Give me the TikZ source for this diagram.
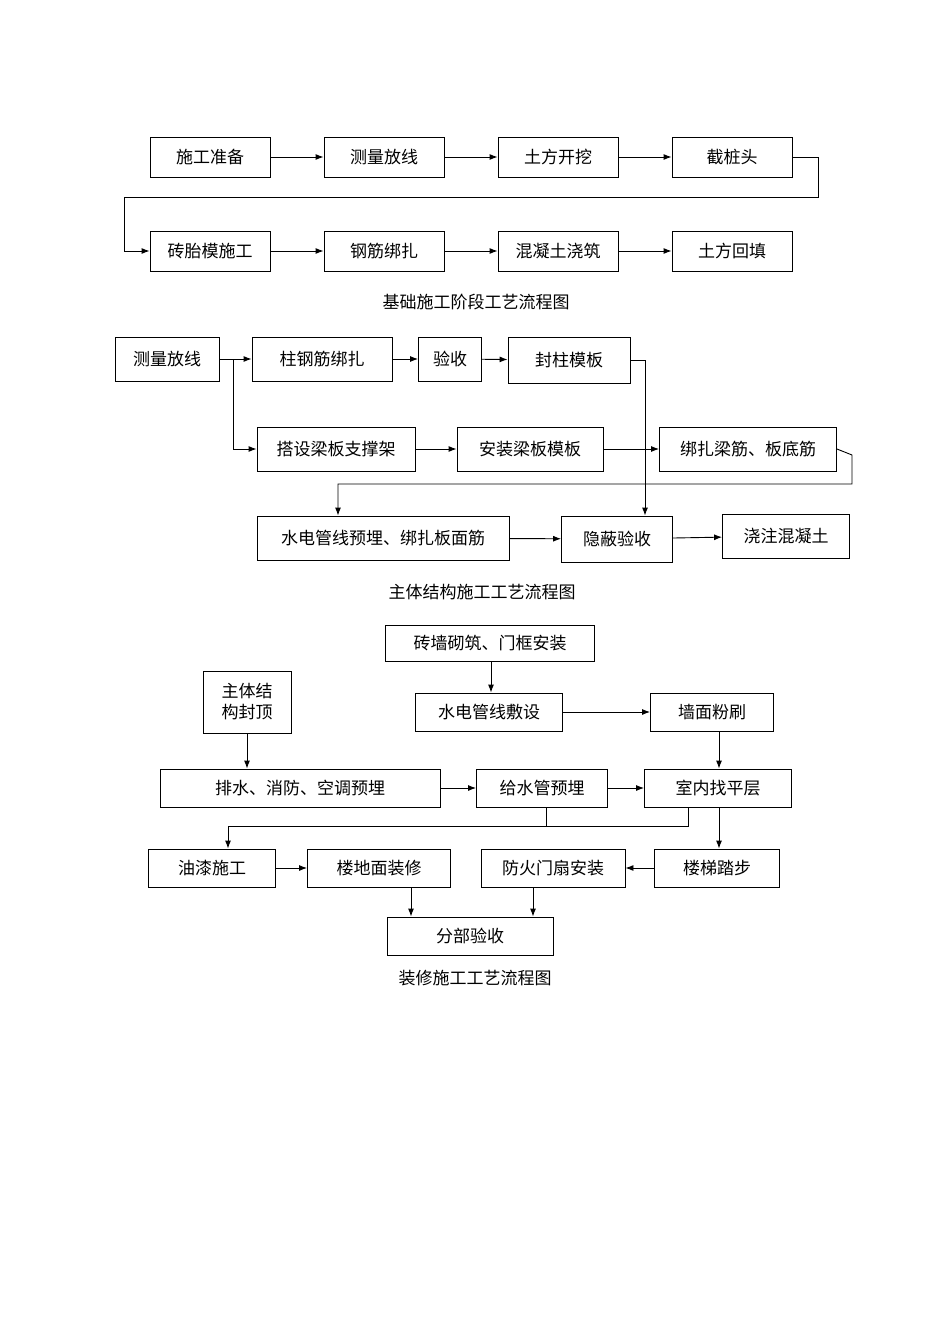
\documentclass[tikz,border=0pt]{standalone}
\usepackage{fontspec}
\setmainfont{Noto Sans CJK SC}
\usetikzlibrary{calc, positioning, arrows.meta}

\tikzset{
    box/.style={draw, line width=0.9pt, inner sep=0pt, font=\fontsize{17}{21}\selectfont},
    flow/.style={-{Latex[length=8pt, width=6pt]}, line width=0.9pt},
    link/.style={line width=0.9pt},
    caption/.style={font=\fontsize{17}{21}\selectfont}
}

\begin{document}
\begin{tikzpicture}[x=1pt, y=-1pt]
    % Page
    \useasboundingbox (0,0) rectangle (950,1344);

    % Foundation stage
    \node[box, minimum width=120pt, minimum height=40pt] (prep) at (210,157) {施工准备};
    \node[box, minimum width=120pt, minimum height=40pt] (survA) at (384,157) {测量放线};
    \node[box, minimum width=120pt, minimum height=40pt] (dig) at (558,157) {土方开挖};
    \node[box, minimum width=120pt, minimum height=40pt] (pile) at (732,157) {截桩头};
    \node[box, minimum width=120pt, minimum height=40pt] (mold) at (210,251) {砖胎模施工};
    \node[box, minimum width=120pt, minimum height=40pt] (rebarA) at (384,251) {钢筋绑扎};
    \node[box, minimum width=120pt, minimum height=40pt] (pour) at (558,251) {混凝土浇筑};
    \node[box, minimum width=120pt, minimum height=40pt] (fill) at (732,251) {土方回填};
    \draw[flow] (prep) -- (survA);
    \draw[flow] (survA) -- (dig);
    \draw[flow] (dig) -- (pile);
    \draw[flow] (pile.east) -- (818,157) -- (818,197) -- (124,197) |- (mold.west);
    \draw[flow] (mold) -- (rebarA);
    \draw[flow] (rebarA) -- (pour);
    \draw[flow] (pour) -- (fill);
    \node[caption] (capA) at (476,302) {基础施工阶段工艺流程图};

    % Main structure
    \node[box, minimum width=104pt, minimum height=44pt] (survB) at (167,359) {测量放线};
    \node[box, minimum width=140pt, minimum height=44pt] (colbar) at (322,359) {柱钢筋绑扎};
    \node[box, minimum width=63pt, minimum height=44pt] (check) at (450,359) {验收};
    \node[box, minimum width=122pt, minimum height=46pt] (colform) at (569,360) {封柱模板};
    \node[box, minimum width=158pt, minimum height=44pt] (support) at (336,449) {搭设梁板支撑架};
    \node[box, minimum width=146pt, minimum height=44pt] (slabform) at (530,449) {安装梁板模板};
    \node[box, minimum width=177pt, minimum height=44pt] (beambar) at (748,449) {绑扎梁筋、板底筋};
    \node[box, minimum width=252pt, minimum height=44pt] (pipes) at (383,538) {水电管线预埋、绑扎板面筋};
    \node[box, minimum width=111pt, minimum height=46pt] (hidden) at (617,539) {隐蔽验收};
    \node[box, minimum width=127pt, minimum height=44pt] (concrete) at (786,536) {浇注混凝土};
    \draw[flow] (survB) -- (colbar);
    \draw[flow] (colbar) -- (check);
    \draw[flow] (check) -- (colform);
    \draw[flow] (survB.east) -- (233,359) |- (support.west);
    \draw[flow] (support) -- (slabform);
    \draw[flow] (slabform) -- (beambar);
    \draw[flow] (colform.east) -- (645,360) -- (hidden.north -| 645,0);
    \draw[flow] (beambar.east) -- (852,455) -- (852,484) -- (338,484) -- (pipes.north -| 338,0);
    \draw[flow] (pipes) -- (hidden);
    \draw[flow] (hidden) -- (concrete);
    \node[caption] (capB) at (482,592) {主体结构施工工艺流程图};

    % Decoration
    \node[box, minimum width=209pt, minimum height=36pt] (wall) at (490,643) {砖墙砌筑、门框安装};
    \node[box, minimum width=147pt, minimum height=38pt] (wiring) at (489,712) {水电管线敷设};
    \node[box, minimum width=123pt, minimum height=38pt] (plaster) at (712,712) {墙面粉刷};
    \node[box, minimum width=88pt, minimum height=62pt, align=center] (roof) at (247,702) {主体结\\构封顶};
    \node[box, minimum width=280pt, minimum height=38pt] (drain) at (300,788) {排水、消防、空调预埋};
    \node[box, minimum width=131pt, minimum height=38pt] (supply) at (542,788) {给水管预埋};
    \node[box, minimum width=147pt, minimum height=38pt] (level) at (718,788) {室内找平层};
    \node[box, minimum width=127pt, minimum height=38pt] (paint) at (212,868) {油漆施工};
    \node[box, minimum width=143pt, minimum height=38pt] (floor) at (379,868) {楼地面装修};
    \node[box, minimum width=144pt, minimum height=38pt] (firedoor) at (553,868) {防火门扇安装};
    \node[box, minimum width=125pt, minimum height=38pt] (stairs) at (717,868) {楼梯踏步};
    \node[box, minimum width=166pt, minimum height=38pt] (accept) at (470,936) {分部验收};
    \draw[flow] (wall.south -| 491,0) -- (wiring.north -| 491,0);
    \draw[flow] (wiring) -- (plaster);
    \draw[flow] (plaster.south -| 719,0) -- (level.north -| 719,0);
    \draw[flow] (roof) -- (drain.north -| roof);
    \draw[flow] (drain) -- (supply);
    \draw[flow] (supply) -- (level);
    \draw[link] (supply.south -| 546,0) -- (546,826);
    \draw[flow] (level.south -| 688,0) -- (688,826) -- (228,826) -- (paint.north -| 228,0);
    \draw[flow] (level.south -| 719,0) -- (stairs.north -| 719,0);
    \draw[flow] (paint) -- (floor);
    \draw[flow] (stairs) -- (firedoor);
    \draw[flow] (floor.south -| 411,0) -- (accept.north -| 411,0);
    \draw[flow] (firedoor.south -| 533,0) -- (accept.north -| 533,0);
    \node[caption] (capC) at (475,978) {装修施工工艺流程图};
\end{tikzpicture}
\end{document}
